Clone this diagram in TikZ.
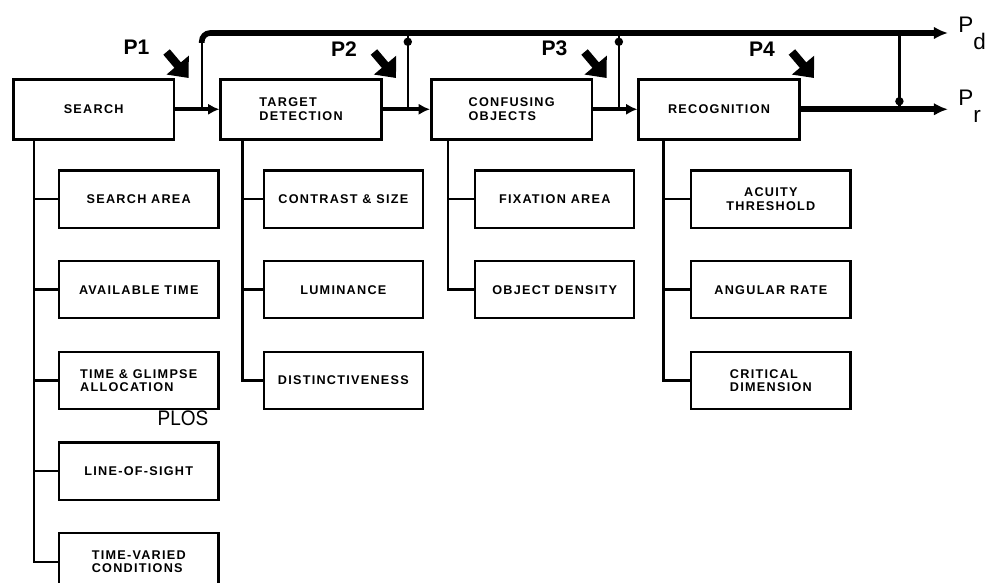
\documentclass[tikz,border=0pt]{standalone}
\usepackage{fontspec}
\setmainfont{Liberation Sans}
\usetikzlibrary{positioning,arrows.meta,calc}

\newcommand{\boxfont}{\fontsize{9}{9.5}\selectfont\bfseries\addfontfeature{LetterSpace=10}}

\tikzset{
  mainbox/.style={draw, line width=1.8pt, minimum width=4.02cm, minimum height=1.5cm, inner sep=2pt, align=left, font=\boxfont},
  subbox/.style={draw, line width=1.6pt, minimum width=3.98cm, minimum height=1.43cm, inner sep=2pt, align=left, font=\boxfont},
  tree/.style={line width=1.8pt},
  flow/.style={line width=3pt, -{Latex[length=8pt,width=8pt]}},
  outline/.style={line width=4pt, -{Latex[length=10pt,width=9pt]}},
  tap/.style={line width=1.6pt},
  junc/.style={circle, fill, inner sep=0pt, minimum size=6pt},
  hit/.style={line width=6pt, -{Triangle[length=12pt,width=20pt]}},
  plabel/.style={font=\fontsize{15}{15}\selectfont\bfseries},
  outlabel/.style={font=\fontsize{16}{16}\selectfont, inner sep=0pt}
}

\begin{document}
\begin{tikzpicture}[x=0.025cm, y=-0.025cm]
  \useasboundingbox (0,0) rectangle (993,583);
  \clip (0,0) rectangle (993,583);

  % main chain
  \node[mainbox, anchor=north west] (search) at (12,78) {SEARCH};
  \node[mainbox, right=1.1cm of search]  (detect)  {TARGET\\DETECTION};
  \node[mainbox, right=1.18cm of detect] (confuse) {CONFUSING\\OBJECTS};
  \node[mainbox, right=1.1cm of confuse] (recog)   {RECOGNITION};

  % search factors
  \node[subbox, below right=0.72cm and 1.15cm of search.south west] (sarea) {SEARCH AREA};
  \node[subbox, below=0.78cm of sarea]   (avtime)  {AVAILABLE TIME};
  \node[subbox, below=0.78cm of avtime]  (glimpse) {TIME \& GLIMPSE\\ALLOCATION};
  \node[subbox, below=0.78cm of glimpse] (los)     {LINE-OF-SIGHT};
  \node[subbox, below=0.78cm of los]     (varied)  {TIME-VARIED\\CONDITIONS};
  \node[font=\fontsize{15}{15}\selectfont, inner sep=0pt] (plos) at (183,418) {\scalebox{0.9}[1]{PLOS}};

  % detection factors
  \node[subbox, below right=0.72cm and 1.08cm of detect.south west] (contrast) {CONTRAST \& SIZE};
  \node[subbox, below=0.78cm of contrast] (lumin)    {LUMINANCE};
  \node[subbox, below=0.78cm of lumin]    (distinct) {DISTINCTIVENESS};

  % confusion factors
  \node[subbox, below right=0.72cm and 1.1cm of confuse.south west] (fixarea) {FIXATION AREA};
  \node[subbox, below=0.78cm of fixarea] (density) {OBJECT DENSITY};

  % recognition factors
  \node[subbox, align=center, below right=0.72cm and 1.32cm of recog.south west] (acuity) {ACUITY\\THRESHOLD};
  \node[subbox, below=0.78cm of acuity] (angrate) {ANGULAR RATE};
  \node[subbox, below=0.78cm of angrate] (critdim) {CRITICAL\\DIMENSION};

  % tree trunks
  \coordinate (searchroot)  at ([xshift=0.55cm]search.south west);
  \coordinate (detectroot)  at ([xshift=0.58cm]detect.south west);
  \coordinate (confuseroot) at ([xshift=0.45cm]confuse.south west);
  \coordinate (recogroot)   at ([xshift=0.65cm]recog.south west);

  \draw[tree] (searchroot) |- (sarea.west);
  \draw[tree] (searchroot) |- (avtime.west);
  \draw[tree] (searchroot) |- (glimpse.west);
  \draw[tree] (searchroot) |- (los.west);
  \draw[tree] (searchroot) |- (varied.west);

  \draw[tree] (detectroot) |- (contrast.west);
  \draw[tree] (detectroot) |- (lumin.west);
  \draw[tree] (detectroot) |- (distinct.west);

  \draw[tree] (confuseroot) |- (fixarea.west);
  \draw[tree] (confuseroot) |- (density.west);

  \draw[tree] (recogroot) |- (acuity.west);
  \draw[tree] (recogroot) |- (angrate.west);
  \draw[tree] (recogroot) |- (critdim.west);

  % flow between stages
  \draw[flow] (search) -- (detect);
  \draw[flow] (detect) -- (confuse);
  \draw[flow] (confuse) -- (recog);

  \coordinate (tap1) at ($(search.east)!0.6!(detect.west)$);
  \coordinate (tap2) at ($(detect.east)!0.53!(confuse.west)$);
  \coordinate (tap3) at ($(confuse.east)!0.58!(recog.west)$);
  \coordinate (pdend) at (948,33);
  \coordinate (prend) at (948,0 |- recog.east);
  \coordinate (tap4) at ($(recog.east)!0.67!(prend)$);

  \draw[outline] (recog.east) -- (prend);
  \draw[tap] (tap1) -- ([yshift=-0.2cm]tap1 |- pdend);
  \draw[line width=4pt, rounded corners=6pt] ([yshift=-0.25cm]tap1 |- pdend) |- ([xshift=0.4cm]tap1 |- pdend);
  \draw[outline] ([xshift=0.3cm]tap1 |- pdend) -- (pdend);
  \draw[tap] (tap2) -- (tap2 |- pdend);
  \draw[tap] (tap3) -- (tap3 |- pdend);
  \draw[tap] (tap4) -- (tap4 |- pdend);
  \node[junc] at ([yshift=-0.22cm]tap2 |- pdend) {};
  \node[junc] at ([yshift=-0.22cm]tap3 |- pdend) {};
  \node[junc] at ([yshift=0.2cm]tap4) {};

  \node[outlabel, anchor=base west] (pd) at (958,33)  {P\raisebox{-12pt}{d}};
  \node[outlabel, anchor=base west] (pr) at (958,106) {P\raisebox{-12pt}{r}};

  % probability inputs
  \coordinate (hit1) at ([xshift=0.33cm]search.north east);
  \coordinate (hit2) at ([xshift=0.33cm]detect.north east);
  \coordinate (hit3) at ([xshift=0.33cm]confuse.north east);
  \coordinate (hit4) at ([xshift=0.33cm]recog.north east);

  \draw[hit] ([shift={(-0.55cm,0.65cm)}]hit1) -- (hit1);
  \draw[hit] ([shift={(-0.55cm,0.65cm)}]hit2) -- (hit2);
  \draw[hit] ([shift={(-0.55cm,0.65cm)}]hit3) -- (hit3);
  \draw[hit] ([shift={(-0.55cm,0.65cm)}]hit4) -- (hit4);

  \node[plabel] (p1) at ([shift={(-1.3cm,0.78cm)}]hit1) {P1};
  \node[plabel] (p2) at ([shift={(-1.3cm,0.72cm)}]hit2) {P2};
  \node[plabel] (p3) at ([shift={(-1.3cm,0.75cm)}]hit3) {P3};
  \node[plabel] (p4) at ([shift={(-1.3cm,0.72cm)}]hit4) {P4};
\end{tikzpicture}
\end{document}
